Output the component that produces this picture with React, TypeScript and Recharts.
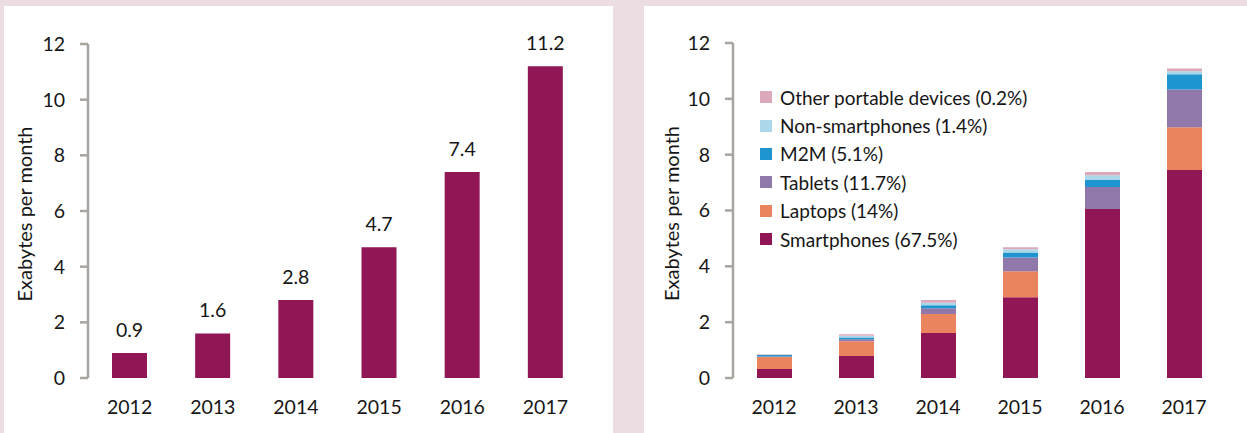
import React from 'react';
import { BarChart, Bar, XAxis, YAxis, LabelList, Legend } from 'recharts';

const years = ['2012', '2013', '2014', '2015', '2016', '2017'];
const totalTraffic = [0.9, 1.6, 2.8, 4.7, 7.4, 11.2];
const smartphones = [0.32, 0.79, 1.61, 2.89, 6.05, 7.45];
const laptops = [0.43, 0.53, 0.68, 0.93, 0, 1.53];
const tablets = [0.02, 0.07, 0.21, 0.5, 0.79, 1.35];
const m2m = [0.05, 0.06, 0.11, 0.18, 0.25, 0.55];
const nonSmartphones = [0.01, 0.06, 0.09, 0.11, 0.17, 0.11];
const otherPortable = [0.02, 0.06, 0.09, 0.07, 0.12, 0.1];
const yTicks = [0, 2, 4, 6, 8, 10, 12];
const boundaryTicks = [0, 1, 2, 3, 4, 5, 6];

const seriesKeys = ['smart', 'laptops', 'tablets', 'm2m', 'nonSmart', 'other'];
const seriesNames = [
  'Smartphones (67.5%)',
  'Laptops (14%)',
  'Tablets (11.7%)',
  'M2M (5.1%)',
  'Non-smartphones (1.4%)',
  'Other portable devices (0.2%)',
];
const seriesColors = ['#901656', '#e9845f', '#9178ab', '#1f95cf', '#aad8ea', '#dca8bc'];
const seriesValues = [smartphones, laptops, tablets, m2m, nonSmartphones, otherPortable];

const totalData = years.map((y, i) => ({ year: y, total: totalTraffic[i] }));
const stackData = years.map((y, i) => {
  const row: Record<string, any> = { year: y };
  seriesKeys.forEach((k, j) => {
    row[k] = seriesValues[j][i];
  });
  return row;
});

const FONT = 'Lato, "Open Sans", sans-serif';
const AXIS = '#a8a49f';
const TEXT = '#161616';
const TICK_SIZE = 19.5;

const YLabel = (props: any) => {
  const vb = props.viewBox || {};
  const cx = vb.x + props.dxPos;
  const cy = vb.y + vb.height / 2 + 3;
  return (
    <text
      x={cx}
      y={cy}
      transform={`rotate(-90, ${cx}, ${cy})`}
      textAnchor="middle"
      dominantBaseline="central"
      fontFamily={FONT}
      fontSize={20}
      fill={TEXT}
    >
      Exabytes per month
    </text>
  );
};

const LegendContent = () => {
  const order = seriesKeys.map((_, j) => j).reverse();
  return (
    <div style={{ display: 'flex', flexDirection: 'column', fontFamily: FONT, fontSize: 19, color: TEXT }}>
      {order.map((j) => (
        <div key={seriesKeys[j]} style={{ height: 28.4, display: 'flex', alignItems: 'center', whiteSpace: 'nowrap' }}>
          <span style={{ display: 'inline-block', width: 12, height: 12, background: seriesColors[j], marginRight: 8 }} />
          <span>{seriesNames[j]}</span>
        </div>
      ))}
    </div>
  );
};

const axes = (labelDx: number) => [
  <XAxis
    key="grid"
    xAxisId="grid"
    type="number"
    domain={[0, 6]}
    ticks={boundaryTicks}
    height={0}
    axisLine={{ stroke: AXIS, strokeWidth: 2.5 }}
    tickLine={{ stroke: AXIS, strokeWidth: 2.5 }}
    tickSize={8}
    tick={() => <g />}
    allowDataOverflow
  />,
  <XAxis
    key="cat"
    xAxisId="cat"
    dataKey="year"
    height={30}
    axisLine={false}
    tickLine={false}
    tickMargin={16}
    tick={{ fontFamily: FONT, fontSize: TICK_SIZE, fill: TEXT }}
  />,
  <YAxis
    key="y"
    width={60}
    domain={[0, 12]}
    ticks={yTicks}
    axisLine={{ stroke: AXIS, strokeWidth: 2.5 }}
    tickLine={{ stroke: AXIS, strokeWidth: 2.5 }}
    tickSize={8}
    tickMargin={15}
    tick={{ fontFamily: FONT, fontSize: TICK_SIZE, fill: TEXT }}
    label={<YLabel dxPos={labelDx} />}
  />,
];

export default function App() {
  return (
    <div style={{ position: 'absolute', left: 0, top: 0, width: 1247, height: 433, background: '#ebdde2', overflow: 'hidden' }}>
      <div style={{ position: 'absolute', left: 4, top: 6, width: 609, height: 427, background: '#ffffff' }} />
      <div style={{ position: 'absolute', left: 644, top: 6, width: 603, height: 427, background: '#ffffff' }} />
      <div style={{ position: 'absolute', left: 0, top: 0 }}>
        <BarChart width={613} height={433} data={totalData} margin={{ top: 44, right: 26, bottom: 25, left: 28 }}>
          {axes(-4)}
          <Bar dataKey="total" xAxisId="cat" fill="#901656" barSize={35} isAnimationActive={false}>
            <LabelList dataKey="total" position="top" offset={16} style={{ fontFamily: FONT, fontSize: TICK_SIZE, fill: TEXT }} />
          </Bar>
        </BarChart>
      </div>
      <div style={{ position: 'absolute', left: 640, top: 0 }}>
        <BarChart width={607} height={433} data={stackData} margin={{ top: 43, right: 22, bottom: 25, left: 33 }}>
          {axes(-2)}
          <Legend
            layout="vertical"
            align="center"
            verticalAlign="middle"
            wrapperStyle={{ left: 120, top: 83, width: 320 }}
            content={<LegendContent />}
          />
          {seriesKeys.map((k, j) => (
            <Bar
              key={k}
              dataKey={k}
              name={seriesNames[j]}
              stackId="a"
              xAxisId="cat"
              fill={seriesColors[j]}
              barSize={35}
              isAnimationActive={false}
            />
          ))}
        </BarChart>
      </div>
    </div>
  );
}
